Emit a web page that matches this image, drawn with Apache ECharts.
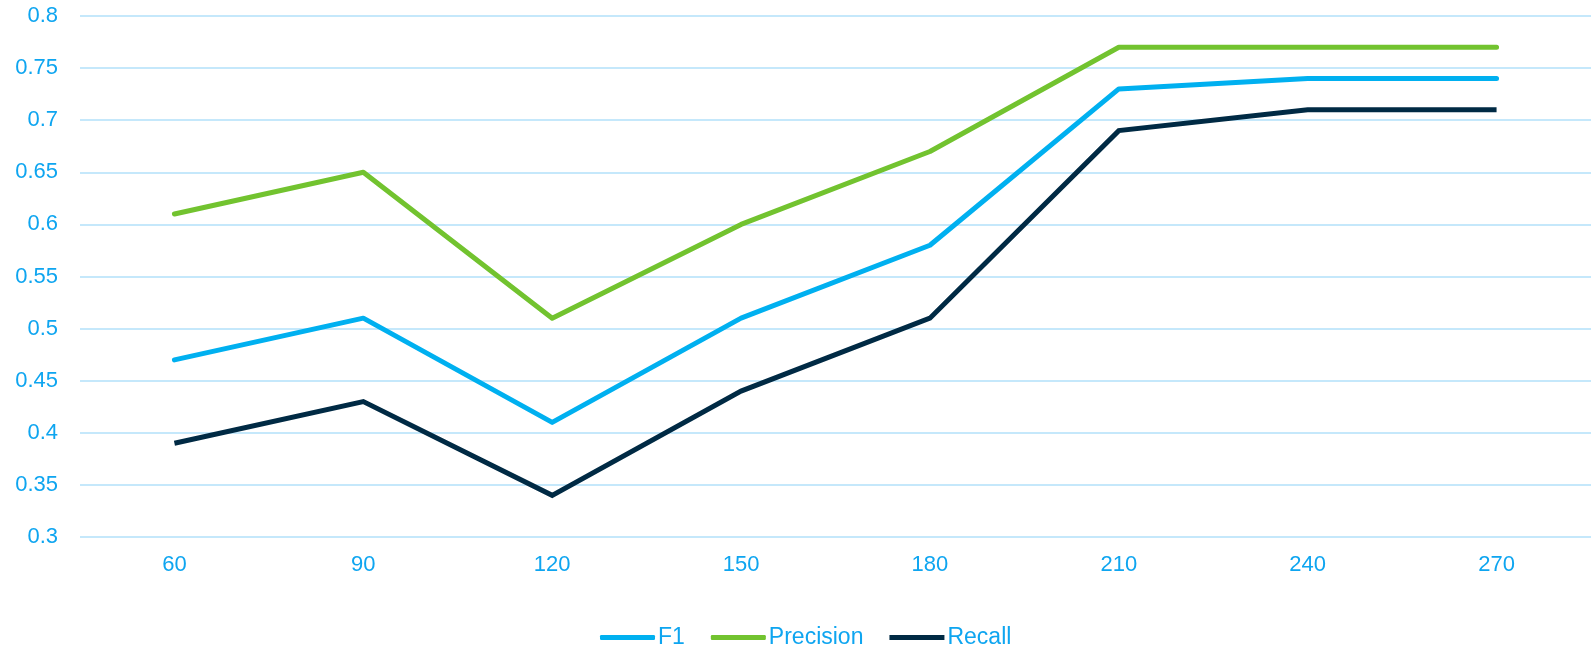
<!DOCTYPE html>
<html>
<head>
<meta charset="utf-8">
<script src="https://cdn.jsdelivr.net/npm/echarts@6/dist/echarts.min.js"></script>
<style>
  html, body { margin: 0; padding: 0; background: #fff; }
  #chart { width: 1591px; height: 649px; }
</style>
</head>
<body>
<div id="chart"></div>
<script>
// Window sizes on the x axis
const categories = ['60', '90', '120', '150', '180', '210', '240', '270'];

// Scores per window size
const f1 = [0.47, 0.51, 0.41, 0.51, 0.58, 0.73, 0.74, 0.74];
const precision = [0.61, 0.65, 0.51, 0.60, 0.67, 0.77, 0.77, 0.77];
const recall = [0.39, 0.43, 0.34, 0.44, 0.51, 0.69, 0.71, 0.71];

const labelColor = '#0ea5f0';
const fontFamily = '"Liberation Sans", Arial, sans-serif';

const chart = echarts.init(document.getElementById('chart'));

function lineSeries(name, data, color, cap, join) {
  return {
    name: name,
    type: 'line',
    data: data,
    symbol: 'none',
    lineStyle: { color: color, width: 5, cap: cap, join: join },
    itemStyle: { color: color },
    emphasis: { disabled: true }
  };
}

chart.setOption({
  animation: false,
  grid: { left: 80, right: 0, top: 16, bottom: 112 },
  xAxis: {
    type: 'category',
    data: categories,
    boundaryGap: true,
    axisLine: { show: false },
    axisTick: { show: false },
    axisLabel: { color: labelColor, fontSize: 22, fontFamily: fontFamily, margin: 17 }
  },
  yAxis: {
    type: 'value',
    min: 0.3,
    max: 0.8,
    interval: 0.05,
    axisLine: { show: false },
    axisTick: { show: false },
    axisLabel: {
      color: labelColor, fontSize: 22, fontFamily: fontFamily, margin: 22,
      formatter: v => String(parseFloat(v.toFixed(2)))
    },
    splitLine: { lineStyle: { color: '#c5e8fb', width: 2 } }
  },
  legend: {
    bottom: 0,
    left: 600,
    padding: 0,
    itemWidth: 55,
    itemHeight: 5,
    itemGap: 26,
    textStyle: { color: labelColor, fontSize: 23, fontFamily: fontFamily, padding: [0, 0, 0, -2] },
    data: [
      { name: 'F1', icon: 'roundRect' },
      { name: 'Precision', icon: 'roundRect' },
      { name: 'Recall', icon: 'rect' }
    ]
  },
  series: [
    lineSeries('F1', f1, '#00b0f0', 'round', 'round'),
    lineSeries('Precision', precision, '#72c32f', 'round', 'round'),
    lineSeries('Recall', recall, '#002a44', 'butt', 'miter')
  ]
});
</script>
</body>
</html>
